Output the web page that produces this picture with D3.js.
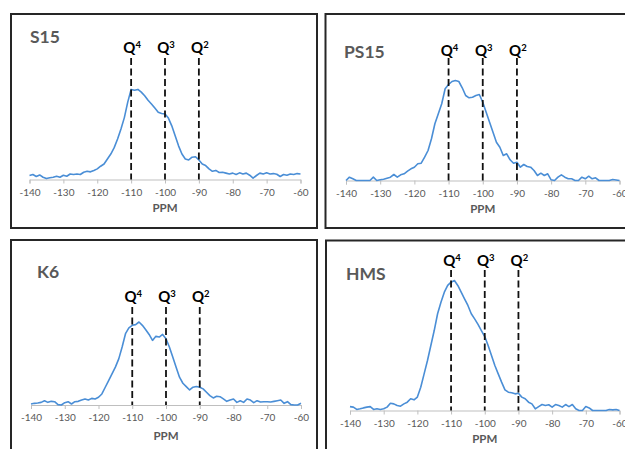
<!DOCTYPE html>
<html><head><meta charset="utf-8">
<script src="https://cdn.jsdelivr.net/npm/d3@7"></script>
<style>html,body{margin:0;padding:0;background:#fff;overflow:hidden}svg{display:block}</style>
</head><body>
<script>
// ---- data ----
const ppm = [-140,-139,-138,-137,-136,-135,-134,-133,-132,-131,
  -130,-129,-128,-127,-126,-125,-124,-123,-122,-121,
  -120,-119,-118,-117,-116,-115,-114,-113,-112,-111,
  -110,-109,-108,-107,-106,-105,-104,-103,-102,-101,
  -100,-99,-98,-97,-96,-95,-94,-93,-92,-91,
  -90,-89,-88,-87,-86,-85,-84,-83,-82,-81,
  -80,-79,-78,-77,-76,-75,-74,-73,-72,-71,
  -70,-69,-68,-67,-66,-65,-64,-63,-62,-61,-60];
const s15 = [4.4,5.5,3.3,5,2.5,1,2,2.5,3.6,2.5,
  4.7,3.6,6,5.5,6,5.5,8,9,8.4,10,
  11.7,14.6,17,22.6,28,35,44.5,55.5,68,85,
  99,98,99,96,92,87,83,78.5,74,72.6,
  72,67.5,59,48,37,28,22.6,21.5,24.5,25,
  21.5,17,15.3,11.7,9,10,7.7,8,7,6,
  7,5.5,7.3,6,7,4.7,1.5,4.4,7,6,
  7.3,6,6.5,5.8,3.3,5.5,4.7,6,5.5,6.5,6];
const ps15 = [0,3.3,1.7,0,0,0,0,0,3.3,0,
  0.7,1.3,2.3,3.3,6,3.3,5.7,6.7,9.3,11.7,
  13.3,16.7,17.3,23.3,30,41.7,56.7,66.7,76.7,91.7,
  96,99,100,99,92.7,85,82.7,83.3,85,86,
  78.3,68.3,58.3,48.3,38.3,33.3,25,26.7,20.7,17.3,
  18.3,13.3,16,14,13.3,10,5,7.3,5,6.7,
  0.7,0,3.3,5.7,3.3,1.7,1.7,0,0,3.3,
  1.7,4.3,1.7,2.7,0,0,0,0,1,0.5,0];
const k6 = [1.2,2,2.4,3.2,5.2,3.2,4.4,4,0.4,0,
  2.8,4,1.2,4,4.4,6,7.3,6,8,7.3,
  9.3,13.3,21.4,29.4,37.5,45.6,55.6,69.8,85.9,93,
  96,96.8,100,96,90.7,85,77.8,82.7,81.9,85,
  79.8,69.8,57.7,45.6,33.5,26.2,22.2,18.1,21.4,22.2,
  21.4,19.4,15.3,11.3,8.5,10.5,10,7.3,4.4,6,
  7.3,3.2,5.2,3.2,7.3,6,2.8,5.2,3.6,4,
  4,3.6,4.4,5.2,6,2,4,0.4,0,0,2];
const hms = [3,2.6,0.8,1.3,2,2.6,3,0.8,1.3,0.8,
  1.3,2.6,5.6,5.1,3.8,3.3,5.1,6.4,9,8.2,
  10.3,17.9,28.2,38.5,50,61.5,74.4,83.3,91,96.2,
  98.7,100,96.2,91,85.9,80.8,74.4,70.5,66.2,61.5,
  56.9,50,42.3,34.6,28.2,21.8,15.9,14.1,13.6,12.8,
  13.3,10.3,9,6.4,5.1,1.3,3,4.6,3.8,4.4,
  2.6,4.6,3.8,2.6,4.6,3,4.6,1.3,0,0,
  3,2,0,0,0,0,0,0.8,0.5,0.8,0];
const tickValues = [-140,-130,-120,-110,-100,-90,-80,-70,-60];
const markers = [{pos:-110, label:"Q", sup:"4"},{pos:-100, label:"Q", sup:"3"},{pos:-90, label:"Q", sup:"2"}];
const titles = ["S15","PS15","K6","HMS"];
const xLabel = "PPM";

// ---- layout ----
const panels = [
  {title:titles[0], values:s15, box:[11,14,317,228], x0:29.5, x1:300.5, axisY:179.5, peak:91, tx:30, ty:43, qy:53, dashTop:58, ppmY:212},
  {title:titles[1], values:ps15, box:[325.5,14,640,228], x0:346, x1:619.5, axisY:180.5, peak:100, tx:344, ty:58, qy:55.5, dashTop:58, ppmY:213},
  {title:titles[2], values:k6, box:[11,240,317,470], x0:31, x1:301, axisY:405, peak:83, tx:37, ty:278, qy:302, dashTop:307, ppmY:440},
  {title:titles[3], values:hms, box:[326,240.5,640,470], x0:350, x1:619.5, axisY:410.5, peak:130, tx:346, ty:280, qy:266, dashTop:270, ppmY:443}
];

const W = 625, H = 449;
const svg = d3.select("body").append("svg").attr("width", W).attr("height", H);
svg.append("rect").attr("width", W).attr("height", H).attr("fill", "#fff");
const FONT = "Lato, 'Open Sans', sans-serif";

panels.forEach(p => {
  const g = svg.append("g");
  g.append("rect")
    .attr("x", p.box[0]).attr("y", p.box[1])
    .attr("width", p.box[2]-p.box[0]).attr("height", p.box[3]-p.box[1])
    .attr("fill", "none").attr("stroke", "#262626").attr("stroke-width", 2);

  const x = d3.scaleLinear().domain([-140,-60]).range([p.x0, p.x1]);
  const y = d3.scaleLinear().domain([0,100]).range([p.axisY, p.axisY - p.peak]);

  const ax = g.append("g").attr("transform", `translate(0,${p.axisY})`)
    .call(d3.axisBottom(x).tickValues(tickValues).tickSize(4).tickPadding(5).tickFormat(d => String(d)));
  ax.select(".domain").attr("stroke", "#bfbfbf");
  ax.selectAll(".tick line").attr("stroke", "#bfbfbf");
  ax.selectAll(".tick text").attr("fill", "#595959").attr("font-family", FONT).attr("font-size", "10px");

  g.append("text").attr("x", (p.x0+p.x1)/2).attr("y", p.ppmY)
    .attr("text-anchor", "middle").attr("font-family", FONT).attr("font-weight", "bold")
    .attr("font-size", "11.5px").attr("fill", "#595959").text(xLabel);

  const line = d3.line().x((d,i) => x(ppm[i])).y(d => y(d));
  g.append("path").datum(p.values).attr("d", line)
    .attr("fill", "none").attr("stroke", "#4a8ed6").attr("stroke-width", 1.6).attr("stroke-linejoin", "round");

  markers.forEach(m => {
    g.append("line").attr("x1", x(m.pos)).attr("x2", x(m.pos))
      .attr("y1", p.dashTop).attr("y2", p.axisY)
      .attr("stroke", "#111").attr("stroke-width", 1.8).attr("stroke-dasharray", "7,3.5");
    const t = g.append("text").attr("x", x(m.pos)+1).attr("y", p.qy)
      .attr("text-anchor", "middle").attr("font-family", FONT).attr("font-weight", "bold")
      .attr("font-size", "15px").attr("fill", "#000");
    t.append("tspan").text(m.label);
    t.append("tspan").attr("dy", "-5").attr("font-size", "9.5px").text(m.sup);
  });

  g.append("text").attr("x", p.tx).attr("y", p.ty)
    .attr("font-family", FONT).attr("font-weight", "bold").attr("font-size", "17.5px")
    .attr("fill", "#595959").text(p.title);
});
</script>
</body></html>
